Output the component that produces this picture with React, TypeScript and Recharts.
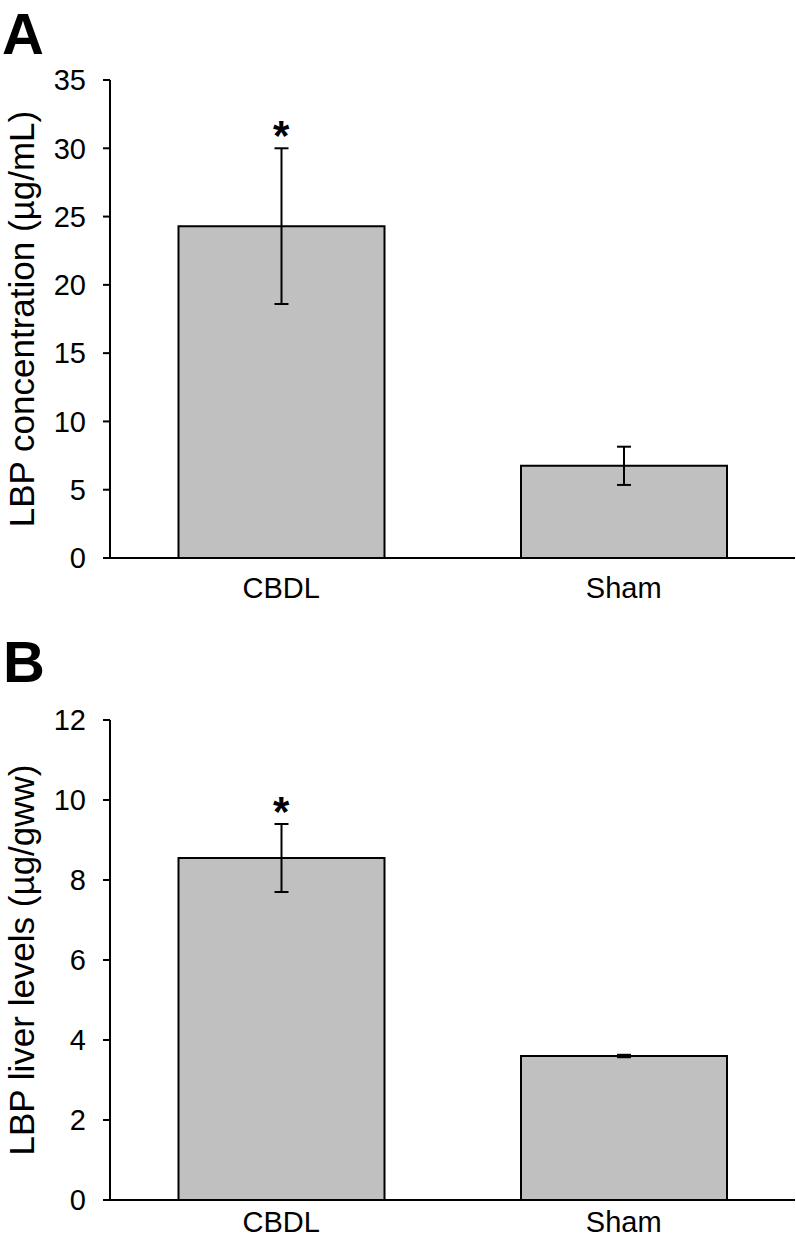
import React from 'react';
import { ComposedChart, Bar, XAxis, YAxis, ErrorBar, Scatter, Label } from 'recharts';

const categories = ['CBDL', 'Sham'];
const concentrationMean = [24.3, 6.75];
const concentrationErr = [5.7, 1.4];
const liverMean = [8.55, 3.6];
const liverErr = [0.85, 0.03];
const significant = [true, false];
const concentrationTicks = [0, 5, 10, 15, 20, 25, 30, 35];
const liverTicks = [0, 2, 4, 6, 8, 10, 12];

const FONT = '"Liberation Sans", Arial, Helvetica, sans-serif';

function buildRows(means: number[], errs: number[]) {
  return categories.map((name, i) => ({
    name,
    mean: means[i],
    err: errs[i],
    star: significant[i] ? means[i] + errs[i] : null,
  }));
}

const concentrationRows = buildRows(concentrationMean, concentrationErr);
const liverRows = buildRows(liverMean, liverErr);

const StarShape = (p: any) => {
  if (p.cy == null || isNaN(p.cy) || p.payload?.star == null) return <g />;
  return (
    <text x={p.cx} y={p.cy + 2} textAnchor="middle" fontSize={42} fontWeight="bold" fontFamily={FONT} fill="#000">
      *
    </text>
  );
};

const makeYLabel = (text: string) => (props: any) => {
  const vb = props.viewBox || {};
  const x = (vb.x ?? 20) + 14;
  const y = (vb.y ?? 0) + (vb.height ?? 0) / 2;
  return (
    <text x={x} y={y} transform={`rotate(-90, ${x}, ${y})`} textAnchor="middle" fontSize={35} fontFamily={FONT} fill="#000">
      {text}
    </text>
  );
};

interface PanelProps {
  rows: any[];
  ticks: number[];
  yLabel: string;
  top: number;
  height: number;
  marginTop: number;
  marginBottom: number;
  xAxisHeight: number;
  xTickMargin: number;
}

function Panel({ rows, ticks, yLabel, top, height, marginTop, marginBottom, xAxisHeight, xTickMargin }: PanelProps) {
  return (
    <div style={{ position: 'absolute', left: 0, top, width: 796, height }}>
      <ComposedChart
        width={796}
        height={height}
        data={rows}
        margin={{ top: marginTop, right: 1, bottom: marginBottom, left: 20 }}
        barCategoryGap="20%"
      >
        <XAxis
          dataKey="name"
          type="category"
          height={xAxisHeight}
          axisLine={{ stroke: '#000', strokeWidth: 2 }}
          tickLine={false}
          tickSize={0}
          tickMargin={xTickMargin}
          tick={{ fill: '#000', fontSize: 29, fontFamily: FONT }}
        />
        <YAxis
          width={90}
          domain={[0, ticks[ticks.length - 1]]}
          ticks={ticks}
          interval={0}
          axisLine={{ stroke: '#000', strokeWidth: 2 }}
          tickLine={{ stroke: '#000', strokeWidth: 2 }}
          tickSize={7}
          tickMargin={17}
          tick={{ fill: '#000', fontSize: 29, fontFamily: FONT }}
        >
          <Label content={makeYLabel(yLabel)} />
        </YAxis>
        <Bar dataKey="mean" fill="#c0c0c0" stroke="#000" strokeWidth={2} isAnimationActive={false}>
          <ErrorBar dataKey="err" direction="y" width={7} stroke="#000" strokeWidth={2} />
        </Bar>
        <Scatter dataKey="star" shape={StarShape} isAnimationActive={false} />
      </ComposedChart>
    </div>
  );
}

export default function App() {
  return (
    <div style={{ position: 'absolute', left: 0, top: 0, width: 796, height: 1241, background: '#fff' }}>
      <Panel
        rows={concentrationRows}
        ticks={concentrationTicks}
        yLabel="LBP concentration (µg/mL)"
        top={0}
        height={620}
        marginTop={80}
        marginBottom={12}
        xAxisHeight={50}
        xTickMargin={19}
      />
      <Panel
        rows={liverRows}
        ticks={liverTicks}
        yLabel="LBP liver levels (µg/gww)"
        top={620}
        height={621}
        marginTop={100}
        marginBottom={0}
        xAxisHeight={41}
        xTickMargin={11}
      />
      <svg width={796} height={1241} style={{ position: 'absolute', left: 0, top: 0, pointerEvents: 'none' }}>
        <text x={2} y={54} fontSize={58} fontWeight="bold" fontFamily={FONT} fill="#000">A</text>
        <text x={3} y={682} fontSize={58} fontWeight="bold" fontFamily={FONT} fill="#000">B</text>
      </svg>
    </div>
  );
}
